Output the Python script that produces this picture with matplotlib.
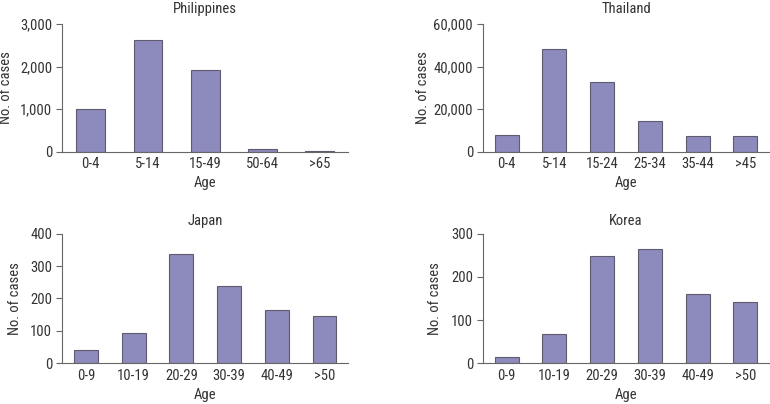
import matplotlib.pyplot as plt
from matplotlib.ticker import FuncFormatter

plt.rcParams['font.family'] = ['Roboto Condensed', 'Liberation Sans']

# Philippines
ph_ages = ['0-4', '5-14', '15-49', '50-64', '>65']
ph_cases = [1000, 2630, 1930, 65, 15]

# Thailand
th_ages = ['0-4', '5-14', '15-24', '25-34', '35-44', '>45']
th_cases = [7800, 48300, 32700, 14700, 7400, 7400]

# Japan
jp_ages = ['0-9', '10-19', '20-29', '30-39', '40-49', '>50']
jp_cases = [40, 92, 336, 240, 163, 145]

# Korea
kr_ages = ['0-9', '10-19', '20-29', '30-39', '40-49', '>50']
kr_cases = [14, 67, 248, 264, 160, 143]

bar_color = '#8d8abd'
edge_color = '#5e5c6e'
text_color = '#333333'
spine_color = '#666666'

fig = plt.figure(figsize=(7.7, 4.04), dpi=100)

# title, ages, cases, yticks, axes position, ylabel x (axes coords), title pad
panels = [
    ('Philippines', ph_ages, ph_cases, [0, 1000, 2000, 3000], [0.0805, 0.624, 0.372, 0.317], -0.172, 7.5),
    ('Thailand', th_ages, th_cases, [0, 20000, 40000, 60000], [0.627, 0.624, 0.372, 0.317], -0.186, 7.5),
    ('Japan', jp_ages, jp_cases, [0, 100, 200, 300, 400], [0.0805, 0.1007, 0.372, 0.321], -0.14, 6.5),
    ('Korea', kr_ages, kr_cases, [0, 100, 200, 300], [0.627, 0.1007, 0.372, 0.321], -0.144, 6.5),
]

for title, ages, cases, yticks, pos, ylx, tpad in panels:
    ax = fig.add_axes(pos)
    x = range(len(ages))
    ax.bar(x, cases, width=0.5, color=bar_color, edgecolor=edge_color, linewidth=0.8)
    ax.set_xlim(-0.5, len(ages) - 0.5)
    ax.set_ylim(0, yticks[-1])
    ax.set_yticks(yticks)
    ax.yaxis.set_major_formatter(FuncFormatter(lambda v, p: f'{int(v):,}'))
    ax.set_xticks(list(x))
    ax.set_xticklabels(ages)
    ax.tick_params(axis='x', length=0, pad=4, labelsize=10.5, colors=text_color)
    ax.tick_params(axis='y', length=4, width=0.8, color=spine_color, pad=3,
                   labelsize=10.5, labelcolor=text_color)
    for s in ['top', 'right']:
        ax.spines[s].set_visible(False)
    for s in ['left', 'bottom']:
        ax.spines[s].set_color(spine_color)
        ax.spines[s].set_linewidth(0.8)
    ax.set_title(title, fontsize=10.5, color=text_color, pad=tpad)
    ax.set_xlabel('Age', fontsize=10.5, color=text_color, labelpad=3.5)
    ax.set_ylabel('No. of cases', fontsize=10.5, color=text_color)
    ax.yaxis.set_label_coords(ylx, 0.5)

fig.savefig('out.png', dpi=100)
